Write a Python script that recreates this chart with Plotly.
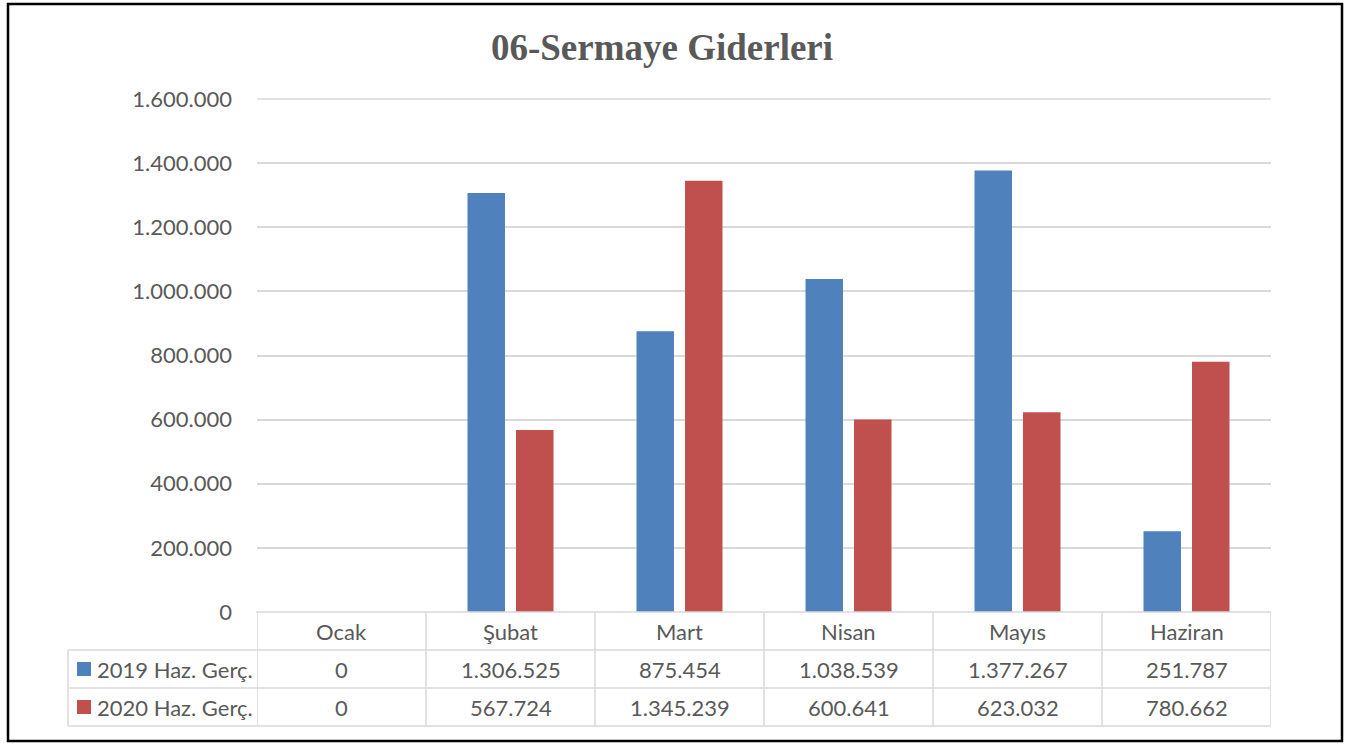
import plotly.graph_objects as go

months = ["Ocak", "Şubat", "Mart", "Nisan", "Mayıs", "Haziran"]
s2019 = [0, 1306525, 875454, 1038539, 1377267, 251787]
s2020 = [0, 567724, 1345239, 600641, 623032, 780662]
series_names = ["2019 Haz. Gerç.", "2020 Haz. Gerç."]
colors = ["#4F81BD", "#C0504D"]

W, H = 1362, 744
L, R, T, B = 257, 1271, 99, 612  # plot area in pixels
grey = "#595959"
line_c = "#D9D9D9"
fnt = "Lato, Carlito, sans-serif"


def px(x):
    return (x - L) / (R - L)


def py(y):
    return (B - y) / (B - T)


def fmt(v):
    return f"{v:,}".replace(",", ".")


fig = go.Figure()
for name, vals, c in zip(series_names, [s2019, s2020], colors):
    fig.add_trace(go.Bar(x=months, y=vals, name=name, marker_color=c,
                         marker_line_width=0, showlegend=False))

shapes = []
# outer chart border
shapes.append(dict(type="rect", xref="paper", yref="paper",
                   x0=px(8), x1=px(1342), y0=py(741), y1=py(4),
                   line=dict(color="black", width=2.5), layer="below"))
# top gridline (sits on the edge of the plot area)
shapes.append(dict(type="line", xref="paper", yref="paper", x0=0, x1=1, y0=1, y1=1,
                   line=dict(color=line_c, width=1.5), layer="below"))
# data table lines
shapes.append(dict(type="line", xref="paper", yref="paper", x0=px(256), x1=px(1271),
                   y0=py(612), y1=py(612), line=dict(color=line_c, width=1.5)))
for yy in [650, 688, 726]:
    shapes.append(dict(type="line", xref="paper", yref="paper", x0=px(68), x1=px(1271),
                       y0=py(yy), y1=py(yy), line=dict(color=line_c, width=1.5)))
shapes.append(dict(type="line", xref="paper", yref="paper", x0=px(68), x1=px(68),
                   y0=py(650), y1=py(726), line=dict(color=line_c, width=1.5)))
for i in range(len(months) + 1):
    shapes.append(dict(type="line", xref="x", yref="paper", x0=i - 0.5, x1=i - 0.5,
                       y0=py(612), y1=py(726), line=dict(color=line_c, width=1.5)))
# legend keys in the table
for k, c in enumerate(colors):
    yc = 669 + 38 * k
    shapes.append(dict(type="rect", xref="paper", yref="paper", x0=px(77), x1=px(91),
                       y0=py(yc + 7), y1=py(yc - 7), fillcolor=c, line_width=0))

ann = []
tfont = dict(family=fnt, size=22, color=grey)
for i, m in enumerate(months):
    ann.append(dict(x=m, y=py(631), xref="x", yref="paper", text=m, showarrow=False,
                    xanchor="center", yanchor="middle", font=tfont))
    for k, vals in enumerate([s2019, s2020]):
        ann.append(dict(x=m, y=py(669 + 38 * k), xref="x", yref="paper", text=fmt(vals[i]),
                        showarrow=False, xanchor="center", yanchor="middle", font=tfont))
for k, name in enumerate(series_names):
    ann.append(dict(x=px(95), y=py(669 + 38 * k), xref="paper", yref="paper", text=name,
                    xanchor="left", yanchor="middle", showarrow=False, font=tfont))

fig.update_layout(
    width=W, height=H,
    margin=dict(l=L, r=W - R, t=T, b=H - B),
    paper_bgcolor="white", plot_bgcolor="white",
    separators=",.",
    title=dict(text="<b>06-Sermaye Giderleri</b>", x=662 / W, xref="container",
               xanchor="center", y=1 - 47 / H, yanchor="middle",
               font=dict(family="Liberation Serif, Times New Roman, serif", size=37, color=grey)),
    barmode="group", bargap=0.426, bargroupgap=0.227,
    xaxis=dict(showticklabels=False, showgrid=False, zeroline=False, showline=False,
               range=[-0.5, 5.5]),
    yaxis=dict(range=[0, 1600000], dtick=200000, tickformat=",d", showgrid=True,
               gridcolor=line_c, gridwidth=1.5, zeroline=False, showline=False,
               ticklabelstandoff=24,
               tickfont=dict(family=fnt, size=22, color=grey)),
    shapes=shapes, annotations=ann,
)

fig.write_html("out.html", config={"displayModeBar": False},
               post_script="document.body.style.margin='0';")
